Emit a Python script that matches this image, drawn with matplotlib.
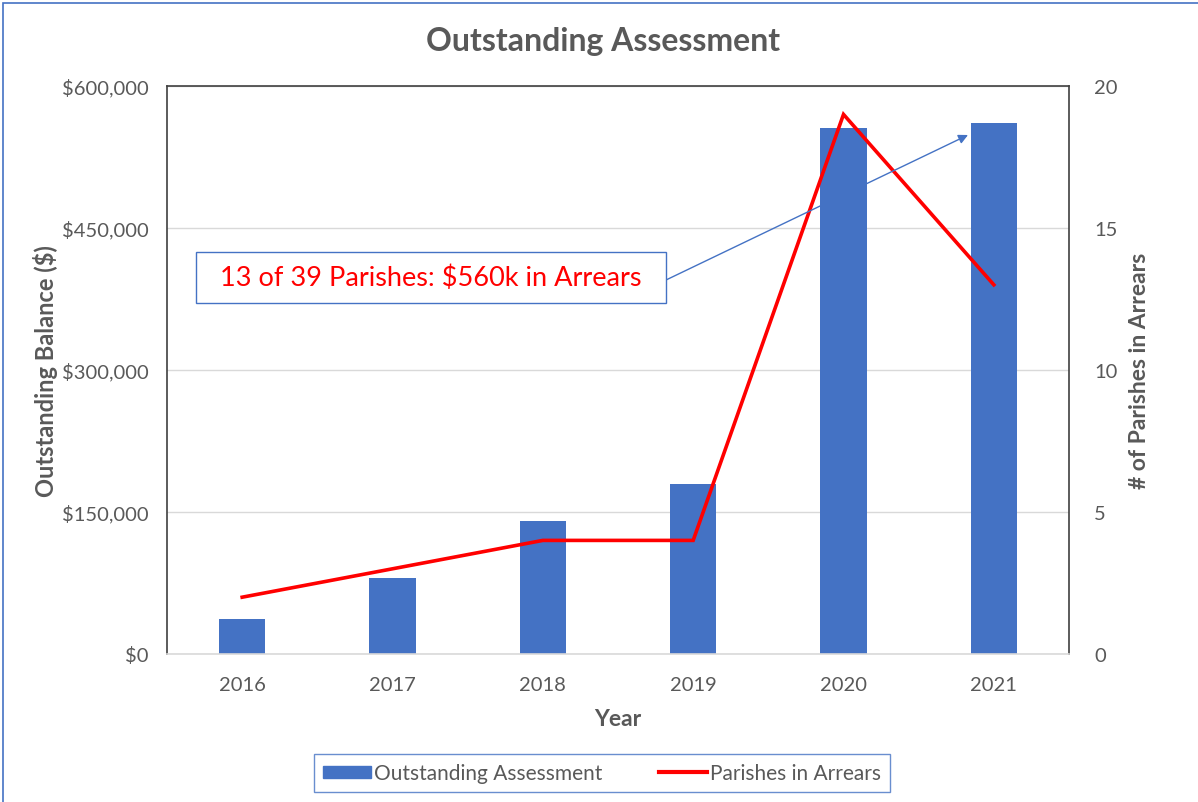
import matplotlib
matplotlib.use("Agg")
import matplotlib.pyplot as plt
from matplotlib.patches import Rectangle
from matplotlib.lines import Line2D
from matplotlib.ticker import FuncFormatter

plt.rcParams['font.family'] = ['Lato', 'DejaVu Sans']

years = ["2016", "2017", "2018", "2019", "2020", "2021"]
outstanding = [37000, 80000, 140500, 179500, 555500, 561000]
parishes = [2, 3, 4, 4, 19, 13]
left_ticks = [0, 150000, 300000, 450000, 600000]
right_ticks = [0, 5, 10, 15, 20]

GRAY = "#595959"
BLUE = "#4472C4"

W, H = 1198, 803
fig = plt.figure(figsize=(W / 100, H / 100), dpi=100)
ax = fig.add_axes([167 / W, 1 - 655 / H, (1069 - 167) / W, (655 - 87) / H])

x = list(range(len(years)))
ax.bar(x, outstanding, width=0.31, color=BLUE, zorder=2)
ax.set_xlim(-0.5, len(years) - 0.5)
ax.set_ylim(0, 600000)
ax.set_yticks(left_ticks)
ax.yaxis.set_major_formatter(FuncFormatter(lambda v, p: f"${v:,.0f}"))
ax.set_xticks(x)
ax.set_xticklabels(years)
ax.grid(axis='y', color='#D9D9D9', lw=1, zorder=0)
ax.set_axisbelow(True)
ax.tick_params(axis='both', length=0, labelsize=14.5, labelcolor=GRAY)
ax.tick_params(axis='x', pad=16)
ax.tick_params(axis='y', pad=13)
for s in ['left', 'top', 'right']:
    ax.spines[s].set_color('#404040')
    ax.spines[s].set_linewidth(1.2)
ax.spines['bottom'].set_color('#D9D9D9')
ax.spines['bottom'].set_linewidth(1.2)
ax.set_xlabel("Year", fontsize=16.5, fontweight='bold', color=GRAY, labelpad=11)
ax.set_ylabel("Outstanding Balance ($)", fontsize=17, fontweight='bold', color=GRAY, labelpad=3)

ax2 = ax.twinx()
ax2.plot(x, parishes, color='#FF0000', lw=2.6, zorder=3, solid_joinstyle='miter')
ax2.set_ylim(0, 20)
ax2.set_yticks(right_ticks)
ax2.tick_params(axis='y', length=0, labelsize=14.5, labelcolor=GRAY, pad=18)
for s in ax2.spines.values():
    s.set_visible(False)
ax2.set_ylabel("# of Parishes in Arrears", fontsize=16.5, fontweight='bold', color=GRAY,
               rotation=90, labelpad=8)

# annotation box
x0, x1 = (196 - 167) / 902, (666 - 167) / 902
y0, y1 = (655 - 304) / 568, (655 - 253) / 568
ax2.add_patch(Rectangle((x0, y0), x1 - x0, y1 - y0, transform=ax2.transAxes,
                        facecolor='white', edgecolor=BLUE, lw=1, zorder=5))
ax2.text((x0 + x1) / 2, (y0 + y1) / 2, "13 of 39 Parishes: $560k in Arrears",
         transform=ax2.transAxes, ha='center', va='center', color='#FF0000',
         fontsize=19.5, zorder=6)
ax2.annotate("", xy=((968 - 167) / 902, (655 - 136) / 568), xycoords='axes fraction',
             xytext=(x1, (655 - 281) / 568), textcoords='axes fraction',
             arrowprops=dict(arrowstyle='-|>', color=BLUE, lw=1, mutation_scale=14,
                             shrinkA=0, shrinkB=0), zorder=4)

fig.text(603 / W, 1 - 41 / H, "Outstanding Assessment", ha='center', va='center',
         fontsize=23, fontweight='bold', color=GRAY)

handles = [Rectangle((0, 0), 1, 1, color=BLUE), Line2D([0], [0], color='#FF0000', lw=3)]
leg = fig.legend(handles, ["Outstanding Assessment", "Parishes in Arrears"],
                 loc='center', bbox_to_anchor=(602 / W, 1 - 774 / H), ncol=2,
                 fontsize=15, frameon=True, fancybox=False, handlelength=2.3,
                 handleheight=0.5, columnspacing=2.7, borderpad=0.45, handletextpad=0.15)
leg.get_frame().set_edgecolor(BLUE)
leg.get_frame().set_linewidth(1)
for t in leg.get_texts():
    t.set_color(GRAY)

fig.patches.append(Rectangle((3 / W, -0.01), 1.02, 1 - 4 / H + 0.01, transform=fig.transFigure,
                             fill=False, edgecolor=BLUE, lw=1.2))

fig.savefig("out.png", dpi=100)
